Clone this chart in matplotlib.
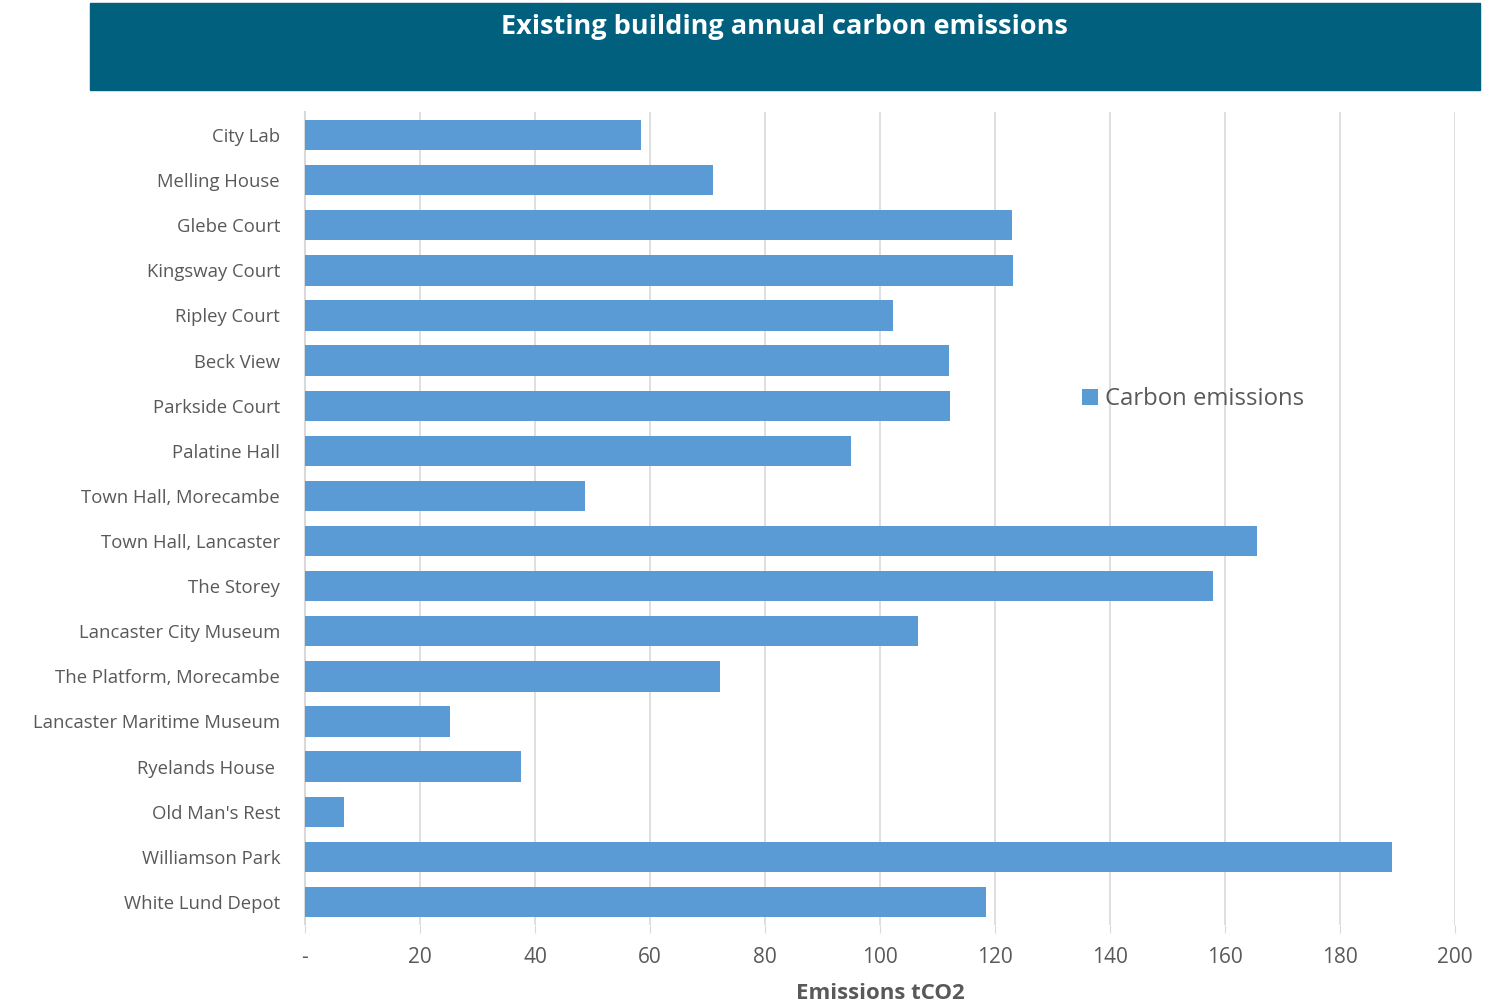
import matplotlib
matplotlib.use("Agg")
import matplotlib.pyplot as plt
from matplotlib.patches import Rectangle

plt.rcParams['font.family'] = ['Open Sans', 'DejaVu Sans']

buildings = ["City Lab", "Melling House", "Glebe Court", "Kingsway Court",
             "Ripley Court", "Beck View", "Parkside Court", "Palatine Hall",
             "Town Hall, Morecambe", "Town Hall, Lancaster", "The Storey",
             "Lancaster City Museum", "The Platform, Morecambe",
             "Lancaster Maritime Museum", "Ryelands House ", "Old Man's Rest",
             "Williamson Park", "White Lund Depot"]
emissions = [58.4, 71.0, 123.0, 123.2, 102.3, 112.0, 112.1, 95.0, 48.7,
             165.6, 157.9, 106.6, 72.2, 25.2, 37.6, 6.8, 189.0, 118.4]
xticks = [0, 20, 40, 60, 80, 100, 120, 140, 160, 180, 200]
xtick_labels = ["-", "20", "40", "60", "80", "100", "120", "140", "160", "180", "200"]

grey = "#595959"
grid = "#d9d9d9"

fig = plt.figure(figsize=(14.94, 10.05), dpi=100)

# title banner
fig.patches.append(Rectangle((90/1494, 1 - 90/1005), 1390/1494, 87/1005,
                             transform=fig.transFigure, color="#00607e", zorder=0))
fig.text(784/1494, 1 - 27/1005, "Existing building annual carbon emissions",
         color="white", fontsize=19.5, fontweight="bold", ha="center", va="center")

ax = fig.add_axes([305/1494, 80.5/1005, 1150/1494, 812/1005])
ypos = list(range(len(buildings)))
ax.barh(ypos, emissions, height=0.67, color="#5b9bd5", label="Carbon emissions", zorder=3)
ax.set_ylim(len(buildings) - 0.5, -0.5)
ax.set_xlim(0, 200)
ax.set_yticks(ypos)
ax.set_yticklabels(buildings, fontsize=13.3, color=grey)
ax.set_xticks(xticks)
ax.set_xticklabels(xtick_labels, fontsize=15, color=grey)
ax.tick_params(axis="y", length=0, pad=18)
ax.tick_params(axis="x", length=6, color=grid, pad=10)
ax.xaxis.grid(True, color=grid, lw=1.2, zorder=0)
for s in ["top", "right", "bottom"]:
    ax.spines[s].set_visible(False)
ax.spines["left"].set_color(grid)
ax.spines["left"].set_linewidth(1.5)

ax.set_xlabel("Emissions tCO2", fontsize=16, fontweight="bold", color=grey, labelpad=11)

leg = ax.legend(loc="center left", bbox_to_anchor=(0.657, 0.647), frameon=False,
                fontsize=17.2, handlelength=0.65, handleheight=0.65, handletextpad=0.3)
for t in leg.get_texts():
    t.set_color(grey)

fig.savefig("out.png", dpi=100)
